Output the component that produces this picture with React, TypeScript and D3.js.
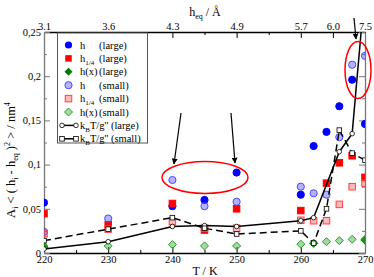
import React, { useEffect, useRef } from "react"
import * as d3 from "d3"

// temperatures (K) where the points sit
const temps = [220, 230, 240, 245, 250, 260, 262, 264, 266, 268, 270]

// A_i <(h_i - h_eq)^2> / nm^4 (null = no point)
const hLarge = [0.057, null, 0.053, 0.06, 0.091, 0.066, 0.121, 0.137, 0.166, 0.196, 0.146]
const q14Large = [0.0445, 0.032, 0.056, 0.026, 0.05, 0.048, null, 0.079, 0.102, 0.11, 0.0856]
const hxLarge = [0.0065, null, null, null, null, null, 0.011, null, null, null, 0.0145]
const hSmall = [0.024, 0.039, 0.0826, 0.053, 0.058, 0.075, 0.0675, 0.066, 0.131, 0.213, 0.223]
const q14Small = [0.022, 0.027, 0.0355, 0.028, 0.028, 0.037, 0.0365, 0.0365, 0.055, 0.075, 0.079]
const hxSmall = [0.008, 0.008, 0.0095, 0.008, 0.008, 0.01, 0.011, 0.0128, 0.014, 0.0155, 0.0155]
const kbtLarge = [0.0045, 0.0128, 0.03, 0.031, 0.03, 0.0365, 0.04, null, 0.1146, 0.135, 0.3]
const kbtSmall = [0.014, 0.027, 0.04, 0.028, 0.0215, 0.025, 0.011, 0.05, 0.139, 0.113, 0.105]

// axes
const bottomTicks = [220, 230, 240, 250, 260, 270]
const bottomMinor = [225, 235, 245, 255, 265]
const topTicks = [220, 230, 240, 250, 260, 265, 270]
const topLabels = ["3.1", "3.6", "4.3", "4.9", "5.7", "6.0", "7.5"]
const topMinor = [225, 235, 245, 255]
const yTicks = [0, 0.05, 0.1, 0.15, 0.2, 0.25]
const yMinor = [0.025, 0.075, 0.125, 0.175, 0.225]

const legendRows = [
  { n: "h", sub: "", tag: "(large)" },
  { n: "h", sub: "1/4", tag: "(large)" },
  { n: "h(x)", sub: "", tag: "(large)" },
  { n: "h", sub: "", tag: "(small)" },
  { n: "h", sub: "1/4", tag: "(small)" },
  { n: "h(x)", sub: "", tag: "(small)" },
  { n: "k", sub: "B", tag: "T/g'' (large)" },
  { n: "k", sub: "B", tag: "T/g'' (small)" },
]

const W = 374
const H = 277
const margin = { top: 32, right: 9, bottom: 24, left: 44 }
const FONT = "'Liberation Serif', 'DejaVu Serif', serif"

type Pt = { t: number; v: number }
const pts = (vals: (number | null)[]): Pt[] =>
  temps.map((t, i) => ({ t, v: vals[i] as number })).filter((d) => d.v != null)

const diamondPath = (cx: number, cy: number, r = 4) =>
  `M${cx},${cy - r}L${cx + r},${cy}L${cx},${cy + r}L${cx - r},${cy}Z`

const App = () => {
  const ref = useRef<SVGSVGElement | null>(null)

  useEffect(() => {
    const svg = d3.select(ref.current)
    svg.selectAll("*").remove()

    const x = d3.scaleLinear().domain([220, 270]).range([margin.left, W - margin.right])
    const y = d3.scaleLinear().domain([0, 0.25]).range([H - margin.bottom, margin.top])
    const [x0, x1] = x.range()
    const [y0, y1] = y.range()

    const defs = svg.append("defs")
    defs.append("clipPath").attr("id", "plot")
      .append("rect").attr("x", x0).attr("y", y1).attr("width", x1 - x0).attr("height", y0 - y1)
    defs.append("marker").attr("id", "arr").attr("viewBox", "0 0 10 10")
      .attr("refX", 9).attr("refY", 5).attr("markerWidth", 5).attr("markerHeight", 5)
      .attr("orient", "auto")
      .append("path").attr("d", "M0,0 L10,5 L0,10 z").attr("fill", "#000")

    // axes
    const styleAxis = (g: any, color: string) => {
      g.select(".domain").attr("stroke", color).attr("stroke-width", 1.3)
      g.selectAll(".tick line").attr("stroke", color)
      g.selectAll("text").attr("font-family", FONT).attr("font-size", 10.5).attr("fill", "#000")
    }
    const minor = (g: any, color: string) => {
      g.select(".domain").remove()
      g.selectAll("line").attr("stroke", color)
    }
    const gb = svg.append("g").attr("transform", `translate(0,${y0})`)
      .call(d3.axisBottom(x).tickValues(bottomTicks).tickSize(-6).tickSizeOuter(0).tickPadding(3)
        .tickFormat(d3.format("d")))
    styleAxis(gb, "#000")
    svg.append("g").attr("transform", `translate(0,${y0})`)
      .call(d3.axisBottom(x).tickValues(bottomMinor).tickSize(-3).tickFormat(() => ""))
      .call((g) => minor(g, "#000"))

    const gt = svg.append("g").attr("transform", `translate(0,${y1})`)
      .call(d3.axisTop(x).tickValues(topTicks).tickSize(-6).tickSizeOuter(0).tickPadding(2)
        .tickFormat((d, i) => topLabels[i]))
    styleAxis(gt, "#000")
    svg.append("g").attr("transform", `translate(0,${y1})`)
      .call(d3.axisTop(x).tickValues(topMinor).tickSize(-3).tickFormat(() => ""))
      .call((g) => minor(g, "#000"))

    const gl = svg.append("g").attr("transform", `translate(${x0},0)`)
      .call(d3.axisLeft(y).tickValues(yTicks).tickSize(-6).tickSizeOuter(0).tickPadding(3)
        .tickFormat((d) => String(d).replace(".", ",")))
    styleAxis(gl, "#777")
    svg.append("g").attr("transform", `translate(${x0},0)`)
      .call(d3.axisLeft(y).tickValues(yMinor).tickSize(-3).tickFormat(() => ""))
      .call((g) => minor(g, "#777"))
    const gr = svg.append("g").attr("transform", `translate(${x1},0)`)
      .call(d3.axisRight(y).tickValues(yTicks).tickSize(-6).tickSizeOuter(0).tickFormat(() => ""))
    styleAxis(gr, "#777")
    svg.append("g").attr("transform", `translate(${x1},0)`)
      .call(d3.axisRight(y).tickValues(yMinor).tickSize(-3).tickFormat(() => ""))
      .call((g) => minor(g, "#777"))

    // titles
    svg.append("text").attr("x", 205).attr("y", 275).attr("text-anchor", "middle")
      .attr("font-family", FONT).attr("font-size", 12).text("T / K")

    const tt = svg.append("text").attr("x", 205).attr("y", 16).attr("text-anchor", "middle")
      .attr("font-family", FONT).attr("font-size", 12)
    tt.append("tspan").text("h")
    tt.append("tspan").attr("font-size", 8).attr("dy", 3).text("eq")
    tt.append("tspan").attr("dy", -3).text(" /  Å")

    const yt = svg.append("text").attr("transform", "translate(15,160) rotate(-90)")
      .attr("text-anchor", "middle").attr("font-family", FONT).attr("font-size", 12.5)
    yt.append("tspan").text("A")
    yt.append("tspan").attr("font-size", 8).attr("dy", 3).text("i")
    yt.append("tspan").attr("dy", -3).text(" < ( h")
    yt.append("tspan").attr("font-size", 8).attr("dy", 3).text("i")
    yt.append("tspan").attr("dy", -3).text(" - h")
    yt.append("tspan").attr("font-size", 8).attr("dy", 3).text("eq")
    yt.append("tspan").attr("dy", -3).text(" )")
    yt.append("tspan").attr("font-size", 8).attr("dy", -5).text("2")
    yt.append("tspan").attr("dy", 5).text(" > / nm")
    yt.append("tspan").attr("font-size", 8).attr("dy", -5).text("4")

    // data
    const plot = svg.append("g").attr("clip-path", "url(#plot)")

    const circles = (data: Pt[], fill: string, stroke: string, fo = 1) =>
      plot.append("g").selectAll("circle").data(data).join("circle")
        .attr("cx", (d) => x(d.t)).attr("cy", (d) => y(d.v)).attr("r", 3.6)
        .attr("fill", fill).attr("fill-opacity", fo).attr("stroke", stroke).attr("stroke-width", 1)
    const squares = (data: Pt[], fill: string, stroke: string, fo = 1, s = 6.5) =>
      plot.append("g").selectAll("rect").data(data).join("rect")
        .attr("x", (d) => x(d.t) - s / 2).attr("y", (d) => y(d.v) - s / 2)
        .attr("width", s).attr("height", s)
        .attr("fill", fill).attr("fill-opacity", fo).attr("stroke", stroke).attr("stroke-width", 1)
    const diamonds = (data: Pt[], fill: string, stroke: string, fo = 1) =>
      plot.append("g").selectAll("path").data(data).join("path")
        .attr("d", (d) => diamondPath(x(d.t), y(d.v)))
        .attr("fill", fill).attr("fill-opacity", fo).attr("stroke", stroke).attr("stroke-width", 1)

    circles(pts(hLarge), "#0000ff", "#0000ff")
    squares(pts(q14Large), "#ff0000", "#ff0000")
    diamonds(pts(hxLarge), "#007a00", "#007a00")
    circles(pts(hSmall), "#4040ff", "#4a4aff", 0.4)
    squares(pts(q14Small), "#ff5050", "#ff4040", 0.4)
    diamonds(pts(hxSmall), "#30b030", "#2a9a2a", 0.45)

    const line = d3.line<Pt>().x((d) => x(d.t)).y((d) => y(d.v))
    plot.append("path").attr("d", line(pts(kbtLarge))).attr("fill", "none")
      .attr("stroke", "#000").attr("stroke-width", 1.5)
    plot.append("path").attr("d", line(pts(kbtSmall))).attr("fill", "none")
      .attr("stroke", "#000").attr("stroke-width", 1.5).attr("stroke-dasharray", "7,4")
    plot.append("g").selectAll("circle").data(pts(kbtLarge)).join("circle")
      .attr("cx", (d) => x(d.t)).attr("cy", (d) => y(d.v)).attr("r", 2.3)
      .attr("fill", "#fff").attr("stroke", "#000").attr("stroke-width", 0.8)
    plot.append("g").selectAll("rect").data(pts(kbtSmall)).join("rect")
      .attr("x", (d) => x(d.t) - 2.3).attr("y", (d) => y(d.v) - 2.3)
      .attr("width", 4.6).attr("height", 4.6)
      .attr("fill", "#fff").attr("stroke", "#000").attr("stroke-width", 0.8)

    // annotations
    svg.append("ellipse").attr("cx", 205).attr("cy", 177.5).attr("rx", 43).attr("ry", 16)
      .attr("fill", "none").attr("stroke", "#ff0000").attr("stroke-width", 1.5)
    svg.append("ellipse").attr("cx", 358).attr("cy", 70).attr("rx", 13).attr("ry", 28.5)
      .attr("fill", "none").attr("stroke", "#ff0000").attr("stroke-width", 1.5)
    const arrows = [[181, 113, 174, 164], [231, 113, 235, 163], [354, 18, 356, 39]]
    arrows.forEach(([ax, ay, bx, by]) =>
      svg.append("line").attr("x1", ax).attr("y1", ay).attr("x2", bx).attr("y2", by)
        .attr("stroke", "#000").attr("stroke-width", 1.2).attr("marker-end", "url(#arr)"))

    // legend
    const lg = svg.append("g")
    lg.append("rect").attr("x", 57.5).attr("y", 33).attr("width", 90).attr("height", 110)
      .attr("fill", "#fff").attr("stroke", "#555").attr("stroke-width", 1)
    const lx = 68.5
    const ly = (i: number) => 45 + i * 13.4
    legendRows.forEach((r, i) => {
      const t = lg.append("text").attr("x", 80).attr("y", ly(i) + 3.5)
        .attr("font-family", FONT).attr("font-size", 10.5)
      t.append("tspan").text(r.n)
      if (r.sub) t.append("tspan").attr("font-size", 7).attr("dy", 3).text(r.sub)
      if (i < 6) {
        lg.append("text").attr("x", 99).attr("y", ly(i) + 3.5).attr("font-family", FONT)
          .attr("font-size", 10.5).text(r.tag)
      } else {
        t.append("tspan").attr("dy", -3).text(r.tag)
      }
    })
    lg.append("circle").attr("cx", lx).attr("cy", ly(0)).attr("r", 3.6).attr("fill", "#0000ff")
    lg.append("rect").attr("x", lx - 3.25).attr("y", ly(1) - 3.25).attr("width", 6.5).attr("height", 6.5)
      .attr("fill", "#ff0000")
    lg.append("path").attr("d", diamondPath(lx, ly(2))).attr("fill", "#007a00")
    lg.append("circle").attr("cx", lx).attr("cy", ly(3)).attr("r", 3.6)
      .attr("fill", "#4040ff").attr("fill-opacity", 0.4).attr("stroke", "#4a4aff")
    lg.append("rect").attr("x", lx - 3.25).attr("y", ly(4) - 3.25).attr("width", 6.5).attr("height", 6.5)
      .attr("fill", "#ff5050").attr("fill-opacity", 0.4).attr("stroke", "#ff4040")
    lg.append("path").attr("d", diamondPath(lx, ly(5)))
      .attr("fill", "#30b030").attr("fill-opacity", 0.45).attr("stroke", "#2a9a2a")
    ;[6, 7].forEach((i) => {
      lg.append("line").attr("x1", 62).attr("x2", 76).attr("y1", ly(i)).attr("y2", ly(i))
        .attr("stroke", "#000").attr("stroke-width", 1.5)
      ;[62, 76].forEach((px) => {
        if (i === 6)
          lg.append("circle").attr("cx", px).attr("cy", ly(i)).attr("r", 2.3)
            .attr("fill", "#fff").attr("stroke", "#000").attr("stroke-width", 0.8)
        else
          lg.append("rect").attr("x", px - 2.3).attr("y", ly(i) - 2.3).attr("width", 4.6).attr("height", 4.6)
            .attr("fill", "#fff").attr("stroke", "#000").attr("stroke-width", 0.8)
      })
    })
  }, [])

  return (
    <svg ref={ref} width={W} height={H}
      style={{ position: "absolute", left: 0, top: 0, background: "#fff" }} />
  )
}

export default App
